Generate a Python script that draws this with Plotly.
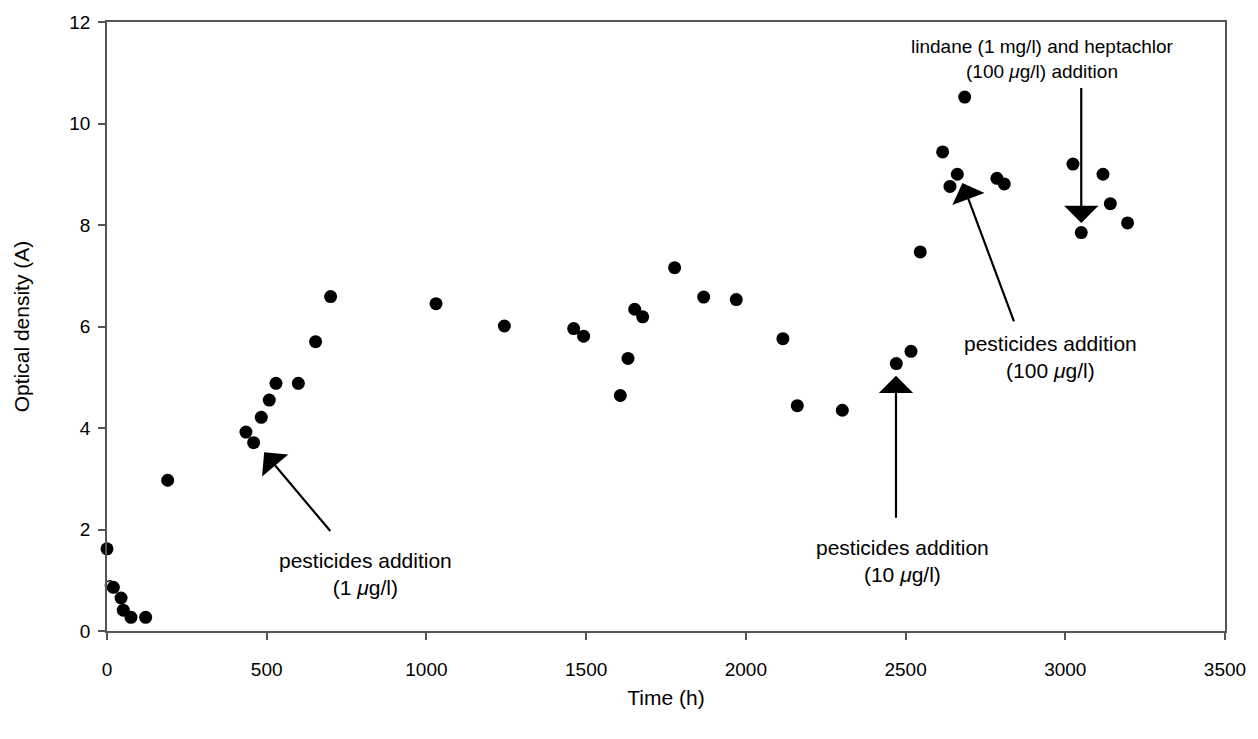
import plotly.graph_objects as go

# Filled data points: time (h) and optical density (A)
time_h = [0, 20, 44, 51, 75, 121, 190, 435, 459, 483, 508, 529, 599, 653, 700,
          1030, 1244, 1461, 1492, 1607, 1631, 1652, 1677, 1777, 1868, 1970,
          2116, 2161, 2302, 2471, 2517, 2546, 2616, 2639, 2662, 2685, 2786,
          2809, 3024, 3050, 3118, 3141, 3195]
od = [1.62, 0.86, 0.65, 0.41, 0.27, 0.27, 2.97, 3.92, 3.71, 4.21, 4.55, 4.88, 4.88,
      5.70, 6.59, 6.45, 6.01, 5.96, 5.81, 4.64, 5.37, 6.34, 6.19, 7.16, 6.58,
      6.53, 5.76, 4.44, 4.35, 5.27, 5.51, 7.47, 9.44, 8.76, 9.00, 10.52, 8.92,
      8.81, 9.20, 7.85, 9.00, 8.42, 8.04]

# Open marker point
time_open = [9]
od_open = [0.90]

x_ticks = [0, 500, 1000, 1500, 2000, 2500, 3000, 3500]
y_ticks = [0, 2, 4, 6, 8, 10, 12]

FONT = "Liberation Sans, Arial, sans-serif"

fig = go.Figure()
fig.add_trace(go.Scatter(x=time_h, y=od, mode="markers",
                         marker=dict(color="black", size=13, line=dict(width=0)),
                         cliponaxis=False, showlegend=False))
fig.add_trace(go.Scatter(x=time_open, y=od_open, mode="markers",
                         marker=dict(symbol="circle-open", color="black", size=9,
                                     line=dict(width=1.5)),
                         cliponaxis=False, showlegend=False))

arrows = [
    dict(x=492, y=3.52, ax=703, ay=1.94),
    dict(x=2470, y=5.03, ax=2470, ay=2.2),
    dict(x=2678, y=8.83, ax=2841, ay=6.07),
    dict(x=3050, y=8.04, ax=3050, ay=10.73),
]
for a in arrows:
    fig.add_annotation(x=a["x"], y=a["y"], ax=a["ax"], ay=a["ay"],
                       xref="x", yref="y", axref="x", ayref="y",
                       text="", showarrow=True, arrowhead=1, arrowsize=2.6,
                       arrowwidth=2.2, arrowcolor="black", standoff=0)

texts = [
    dict(x=809, y=1.12, t="pesticides addition<br>(1 <i>μ</i>g/l)", s=21),
    dict(x=2491, y=1.385, t="pesticides addition<br>(10 <i>μ</i>g/l)", s=21),
    dict(x=2953, y=5.39, t="pesticides addition<br>(100 <i>μ</i>g/l)", s=21),
    dict(x=2928, y=11.28, t="lindane (1 mg/l) and heptachlor<br>(100 <i>μ</i>g/l) addition", s=19),
]
for t in texts:
    fig.add_annotation(x=t["x"], y=t["y"], xref="x", yref="y", text=t["t"],
                       showarrow=False, font=dict(family=FONT, size=t["s"], color="black"),
                       align="center", xanchor="center", yanchor="middle")

axis_common = dict(showline=True, linecolor="#555555", linewidth=1.5, mirror=True,
                   ticks="outside", ticklen=7, tickcolor="#555555", tickwidth=1.5,
                   showgrid=False, zeroline=False,
                   tickfont=dict(family=FONT, size=19, color="black"))

fig.update_xaxes(range=[0, 3500], tickvals=x_ticks, ticklabelstandoff=13,
                 title=dict(text="Time (h)", font=dict(family=FONT, size=21, color="black"),
                            standoff=12),
                 **axis_common)
fig.update_yaxes(range=[0, 12], tickvals=y_ticks, ticklabelstandoff=4,
                 title=dict(text="Optical density (A)", font=dict(family=FONT, size=21, color="black"),
                            standoff=34),
                 **axis_common)

fig.update_layout(width=1258, height=739, plot_bgcolor="white", paper_bgcolor="white",
                  margin=dict(l=107, r=28, t=20, b=108), showlegend=False)

fig.write_html("out.html")
